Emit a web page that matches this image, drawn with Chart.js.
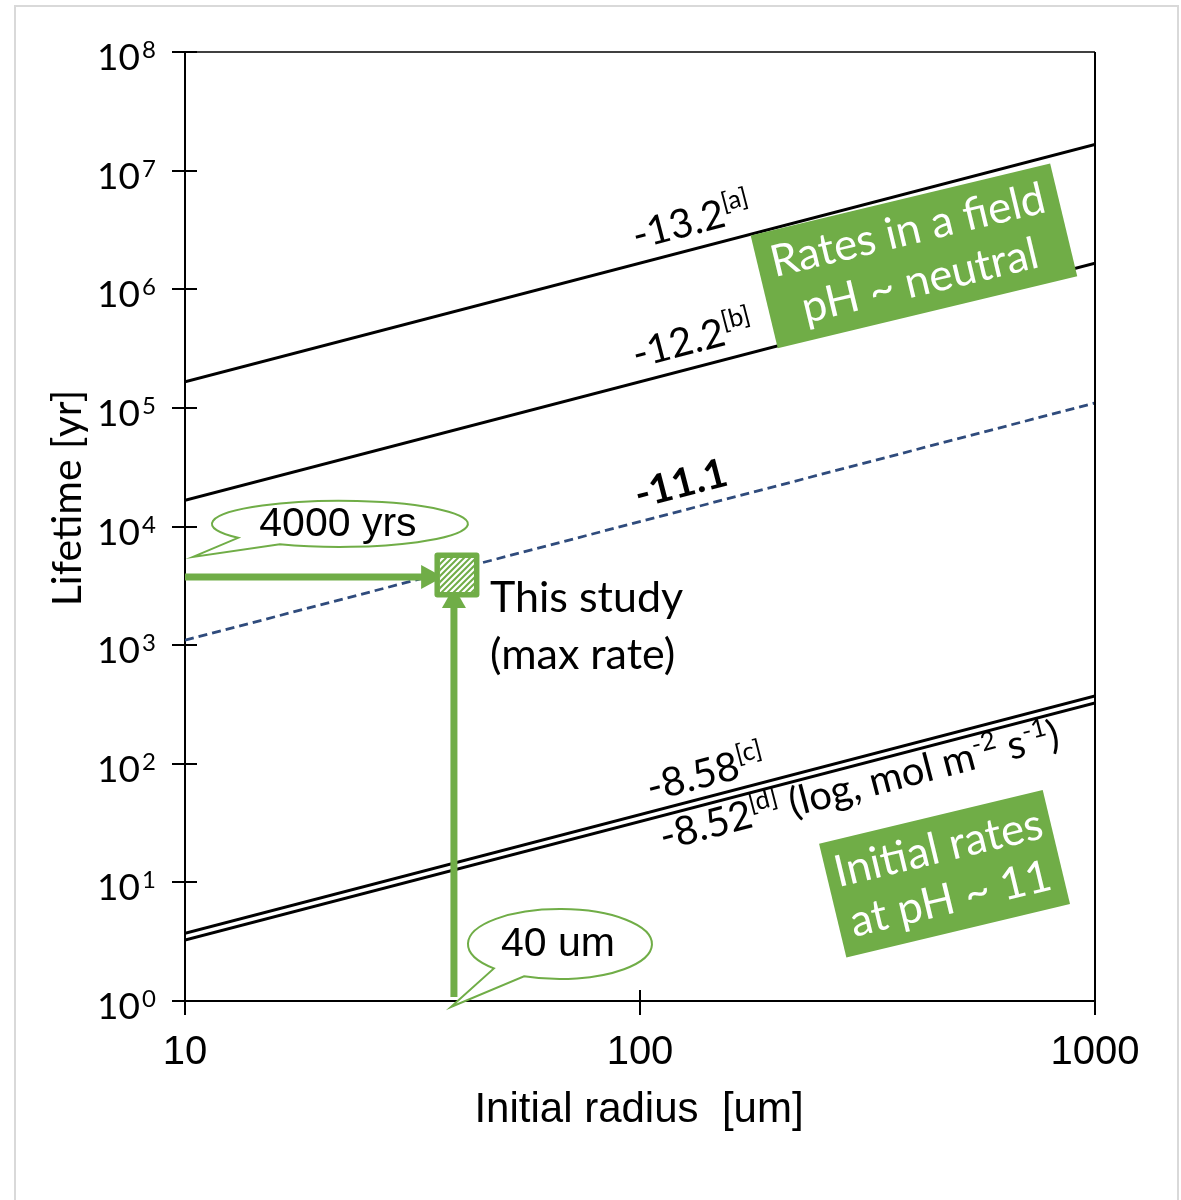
<!DOCTYPE html>
<html>
<head>
<meta charset="utf-8">
<script src="https://cdn.jsdelivr.net/npm/chart.js@4.4.1/dist/chart.umd.min.js"></script>
<style>
  html, body { margin: 0; padding: 0; background: #fff; }
</style>
</head>
<body>
<canvas id="chart" width="1181" height="1200"></canvas>
<script>
// initial radius [um] at both ends of the lines
const radius = [10, 1000];
// lifetime [yr] for each dissolution rate (log, mol m-2 s-1)
const life132 = [1.66e5, 1.66e7];
const life122 = [1.66e4, 1.66e6];
const life111 = [1.1e3, 1.1e5];
const life858 = [3.72, 372];
const life852 = [3.26, 326];

// this study (max rate)
const studyRadius = 39.6;
const studyLife = 3900;
// arrow shafts
const arrowLeftRadius = [10, 33.2];
const arrowLeftLife = [3760, 3760];
const arrowUpRadius = [39, 39];
const arrowUpLife = [1.08, 2100];

const xTicks = [10, 100, 1000];
const yTicks = [1, 10, 100, 1e3, 1e4, 1e5, 1e6, 1e7, 1e8];

const GREEN = '#70ad47';
const CAL = 'Lato, "Noto Sans", sans-serif';
const ARIAL = '"Liberation Sans", Arial, sans-serif';

const pts = (xs, ys) => xs.map((x, i) => ({ x: x, y: ys[i] }));

// draws text pieces, some of them as superscripts
function richText(ctx, parts, x, y, size, font, weight) {
  let cx = x;
  parts.forEach(p => {
    const s = p.sup ? size * 0.64 : size;
    ctx.font = (weight || '') + ' ' + s + 'px ' + font;
    ctx.fillText(p.t, cx, p.sup ? y - size * 0.38 : y);
    cx += ctx.measureText(p.t).width;
  });
  return cx - x;
}

function lifeAt(xs, ys, r) {
  const k = (Math.log10(ys[1]) - Math.log10(ys[0])) / (Math.log10(xs[1]) - Math.log10(xs[0]));
  return ys[0] * Math.pow(r / xs[0], k);
}

const lineLabels = [
  { life: life132, at: 100, off: 14, parts: [{ t: '-13.2' }, { t: '[a]', sup: true }] },
  { life: life122, at: 100, off: 14, parts: [{ t: '-12.2' }, { t: '[b]', sup: true }] },
  { life: life111, at: 101, off: 13, bold: true, parts: [{ t: '-11.1' }] },
  { life: life858, at: 107, off: 10, parts: [{ t: '-8.58' }, { t: '[c]', sup: true }] },
  { life: life852, at: 108, off: -34, parts: [{ t: '-8.52' }, { t: '[d]', sup: true }, { t: ' (log, mol m' }, { t: '-2', sup: true }, { t: ' s' }, { t: '-1', sup: true }, { t: ')' }] }
];

const overlay = {
  id: 'overlay',
  beforeDraw(chart) {
    const ctx = chart.ctx;
    ctx.save();
    ctx.strokeStyle = '#d9d9d9';
    ctx.lineWidth = 2;
    ctx.strokeRect(15, 6, 1163, 1210);
    ctx.restore();
  },
  afterDatasetsDraw(chart) {
    const ctx = chart.ctx;
    const xs = chart.scales.x, ys = chart.scales.y;
    const a = chart.chartArea;
    const px = (r, l) => ({ x: xs.getPixelForValue(r), y: ys.getPixelForValue(l) });
    ctx.save();

    // plot frame top / right
    ctx.lineWidth = 2;
    ctx.strokeStyle = '#404040';
    ctx.beginPath();
    ctx.moveTo(a.left, a.top); ctx.lineTo(a.right, a.top);
    ctx.stroke();
    ctx.strokeStyle = '#000';
    ctx.beginPath();
    ctx.moveTo(a.right, a.top); ctx.lineTo(a.right, a.bottom);
    ctx.stroke();

    // cross ticks
    ctx.strokeStyle = '#000';
    yTicks.forEach(v => {
      const y = Math.round(ys.getPixelForValue(v));
      ctx.beginPath(); ctx.moveTo(a.left - 13, y); ctx.lineTo(a.left + 12, y); ctx.stroke();
    });
    xTicks.forEach(v => {
      const x = Math.round(xs.getPixelForValue(v));
      ctx.beginPath(); ctx.moveTo(x, a.bottom - 11); ctx.lineTo(x, a.bottom + 14); ctx.stroke();
    });

    // tick labels
    ctx.fillStyle = '#000';
    ctx.textBaseline = 'alphabetic';
    yTicks.forEach(v => {
      const y = ys.getPixelForValue(v);
      ctx.font = '37px ' + CAL;
      ctx.textAlign = 'right';
      ctx.fillText('10', 140, y + 18);
      ctx.font = '24px ' + CAL;
      ctx.textAlign = 'left';
      ctx.fillText(String(Math.round(Math.log10(v))), 142, y + 6);
    });
    ctx.textAlign = 'center';
    ctx.textBaseline = 'middle';
    ctx.font = '40px ' + ARIAL;
    xTicks.forEach(v => ctx.fillText(String(v), xs.getPixelForValue(v), 1053));

    // axis titles
    ctx.font = '42px ' + ARIAL;
    ctx.fillText('Initial radius  [um]', 639, 1110);
    ctx.save();
    ctx.translate(68, 498);
    ctx.rotate(-Math.PI / 2);
    ctx.font = '41px ' + CAL;
    ctx.fillText('Lifetime [yr]', 0, 0);
    ctx.restore();

    // rotated labels along the lines
    const p0 = px(radius[0], life132[0]), p1 = px(radius[1], life132[1]);
    const ang = Math.atan2(p1.y - p0.y, p1.x - p0.x);
    ctx.textAlign = 'left';
    ctx.textBaseline = 'alphabetic';
    lineLabels.forEach(l => {
      const p = px(l.at, lifeAt(radius, l.life, l.at));
      ctx.save();
      ctx.translate(p.x, p.y);
      ctx.rotate(ang);
      richText(ctx, l.parts, 0, -l.off, 40, CAL, l.bold ? 'bold' : '');
      ctx.restore();
    });

    // arrow heads
    ctx.fillStyle = GREEN;
    const h = px(arrowLeftRadius[1], arrowLeftLife[1]);
    ctx.beginPath();
    ctx.moveTo(h.x - 1, h.y - 12); ctx.lineTo(h.x + 21, h.y); ctx.lineTo(h.x - 1, h.y + 12);
    ctx.closePath(); ctx.fill();
    const v = px(arrowUpRadius[1], arrowUpLife[1]);
    ctx.beginPath();
    ctx.moveTo(v.x - 12, v.y + 1); ctx.lineTo(v.x, v.y - 20); ctx.lineTo(v.x + 12, v.y + 1);
    ctx.closePath(); ctx.fill();

    // study marker: hatched square
    const s = px(studyRadius, studyLife);
    ctx.beginPath();
    ctx.roundRect(s.x - 22.5, s.y - 22.5, 45, 45, 3);
    ctx.fill();
    ctx.fillStyle = '#fff';
    ctx.fillRect(s.x - 17, s.y - 17, 34, 34);
    ctx.save();
    ctx.beginPath();
    ctx.rect(s.x - 17, s.y - 17, 34, 34);
    ctx.clip();
    ctx.strokeStyle = GREEN;
    ctx.lineWidth = 2;
    for (let d = -40; d <= 40; d += 6) {
      ctx.beginPath();
      ctx.moveTo(s.x + d - 20, s.y + 20);
      ctx.lineTo(s.x + d + 20, s.y - 20);
      ctx.stroke();
    }
    ctx.restore();

    ctx.fillStyle = '#000';
    ctx.font = '43px ' + CAL;
    ctx.textBaseline = 'middle';
    ctx.fillText('This study', 490, s.y + 23);
    ctx.fillText('(max rate)', 490, s.y + 80);

    // callouts
    const callout = (cx, cy, rx, ry, t1, t2, tip, text) => {
      ctx.beginPath();
      ctx.moveTo(tip.x, tip.y);
      ctx.lineTo(cx + rx * Math.cos(t1), cy + ry * Math.sin(t1));
      ctx.ellipse(cx, cy, rx, ry, 0, t1, t2 + 2 * Math.PI, false);
      ctx.closePath();
      ctx.fillStyle = '#fff';
      ctx.fill();
      ctx.strokeStyle = GREEN;
      ctx.lineWidth = 2;
      ctx.stroke();
      ctx.fillStyle = '#000';
      ctx.font = '41px ' + ARIAL;
      ctx.textAlign = 'center';
      ctx.textBaseline = 'middle';
      ctx.fillText(text, cx - 2, cy + 1);
    };
    const deg = Math.PI / 180;
    const c1 = px(21.9, 10520);
    callout(c1.x, c1.y, 128, 23, 142.7 * deg, 118 * deg, { x: a.left + 8, y: c1.y + 33 }, '4000 yrs');
    const c2 = px(66.7, 3.02);
    callout(c2.x, c2.y, 92, 35, 135.9 * deg, 113 * deg, { x: v.x - 3, y: a.bottom + 6 }, '40 um');

    // green note boxes
    const box = (c, w, hgt, lines) => {
      ctx.save();
      ctx.translate(c.x, c.y);
      ctx.rotate(-13.5 * deg);
      ctx.fillStyle = GREEN;
      ctx.fillRect(-w / 2, -hgt / 2, w, hgt);
      ctx.fillStyle = '#fff';
      ctx.font = '44px ' + CAL;
      ctx.textAlign = 'center';
      ctx.textBaseline = 'middle';
      ctx.fillText(lines[0], 0, -26);
      ctx.fillText(lines[1], 0, 26);
      ctx.restore();
    };
    box(px(400, 1.91e6), 308, 116, ['Rates in a field', 'pH ~ neutral']);
    box(px(467, 11.8), 230, 117, ['Initial rates', 'at pH ~ 11']);

    ctx.restore();
  }
};

const solid = (data) => ({
  data: data, borderColor: '#000', borderWidth: 3, pointRadius: 0, showLine: true, order: 3
});

new Chart(document.getElementById('chart'), {
  type: 'scatter',
  data: {
    datasets: [
      solid(pts(radius, life132)),
      solid(pts(radius, life122)),
      {
        data: pts(radius, life111), borderColor: '#2f4b7c', borderWidth: 2.8,
        borderDash: [9, 5], pointRadius: 0, showLine: true, order: 3
      },
      solid(pts(radius, life858)),
      solid(pts(radius, life852)),
      {
        data: pts(arrowLeftRadius, arrowLeftLife), borderColor: GREEN, borderWidth: 7,
        pointRadius: 0, showLine: true, order: 1, clip: false
      },
      {
        data: pts(arrowUpRadius, arrowUpLife), borderColor: GREEN, borderWidth: 7,
        pointRadius: 0, showLine: true, order: 1
      }
    ]
  },
  options: {
    responsive: false,
    animation: false,
    layout: { padding: { left: 0, right: 86, top: 52, bottom: 0 } },
    plugins: { legend: { display: false }, tooltip: { enabled: false } },
    scales: {
      x: {
        type: 'logarithmic', min: 10, max: 1000,
        afterBuildTicks: s => { s.ticks = xTicks.map(v => ({ value: v })); },
        afterFit: s => { s.height = 199; },
        ticks: { display: false },
        grid: { display: false },
        border: { color: '#000', width: 2 }
      },
      y: {
        type: 'logarithmic', min: 1, max: 1e8,
        afterBuildTicks: s => { s.ticks = yTicks.map(v => ({ value: v })); },
        afterFit: s => { s.width = 185; },
        ticks: { display: false },
        grid: { display: false },
        border: { color: '#000', width: 2 }
      }
    }
  },
  plugins: [overlay]
});
</script>
</body>
</html>
